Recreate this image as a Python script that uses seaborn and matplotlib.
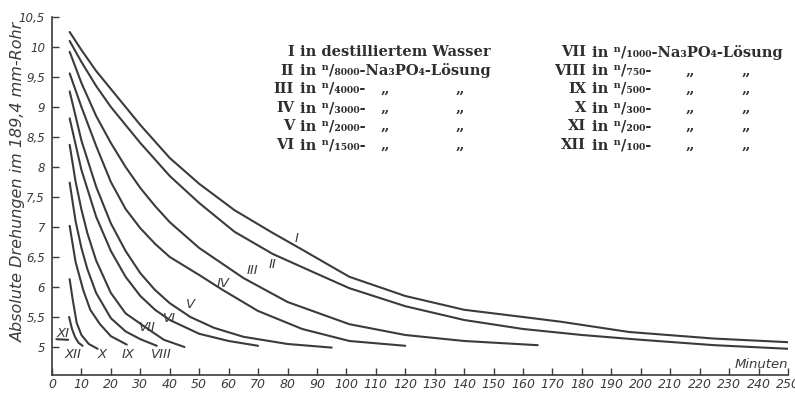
import matplotlib
matplotlib.use("Agg")
import matplotlib.pyplot as plt
import pandas as pd
import seaborn as sns

# minutes vs absolute rotations
CURVE_NAMES = ["I", "II", "III", "IV", "V", "VI", "VII", "VIII", "IX", "X", "XI", "XII"]

t_I = [6, 10, 15, 20, 30, 40, 50, 62, 75, 84, 101, 120, 140, 160, 173, 196, 225, 250]
v_I = [10.25, 9.95, 9.6, 9.3, 8.7, 8.15, 7.72, 7.28, 6.9, 6.65, 6.17, 5.85, 5.62, 5.5, 5.42, 5.25, 5.14, 5.08]
t_II = [6, 10, 15, 20, 30, 40, 50, 62, 75, 90, 101, 120, 140, 160, 180, 200, 225, 250]
v_II = [10.1, 9.75, 9.35, 9.0, 8.4, 7.85, 7.4, 6.92, 6.55, 6.22, 5.98, 5.68, 5.45, 5.3, 5.2, 5.12, 5.03, 4.97]
t_III = [6, 10, 15, 20, 25, 30, 35, 40, 50, 65, 80, 101, 120, 140, 165]
v_III = [9.92, 9.4, 8.85, 8.4, 8.0, 7.65, 7.35, 7.08, 6.65, 6.15, 5.75, 5.38, 5.2, 5.1, 5.03]
t_IV = [6, 10, 15, 20, 25, 30, 35, 40, 50, 58, 70, 85, 101, 120]
v_IV = [9.56, 9.0, 8.35, 7.75, 7.3, 6.98, 6.72, 6.5, 6.2, 5.95, 5.6, 5.3, 5.1, 5.02]
t_V = [6, 10, 15, 20, 25, 30, 35, 40, 47, 55, 65, 80, 95]
v_V = [9.26, 8.44, 7.67, 7.06, 6.6, 6.23, 5.95, 5.73, 5.5, 5.32, 5.17, 5.05, 4.99]
t_VI = [6, 10, 15, 20, 25, 30, 35, 40, 50, 60, 70]
v_VI = [8.81, 7.95, 7.17, 6.6, 6.17, 5.85, 5.62, 5.45, 5.22, 5.1, 5.02]
t_VII = [6, 8, 10, 12, 15, 20, 25, 32, 38, 45]
v_VII = [8.37, 7.76, 7.29, 6.9, 6.44, 5.9, 5.56, 5.32, 5.12, 5.0]
t_VIII = [6, 8, 10, 12, 15, 20, 25, 30, 35.6]
v_VIII = [7.74, 7.1, 6.65, 6.3, 5.9, 5.48, 5.26, 5.13, 5.02]
t_IX = [6, 8, 10.6, 13, 16.3, 20, 25.4]
v_IX = [7.02, 6.42, 5.95, 5.62, 5.38, 5.18, 5.04]
t_X = [6, 7, 8.4, 10, 12.5, 15.5]
v_X = [6.13, 5.8, 5.4, 5.2, 5.05, 4.97]
t_XI = [5.8, 6.8, 7.8, 9, 10.4]
v_XI = [5.5, 5.3, 5.17, 5.07, 5.02]
t_XII = [1.5, 5.5]
v_XII = [5.13, 5.12]

# where the hand-lettered numerals sit (minutes, rotations)
label_t = [83, 75, 68, 58, 47, 40, 32.5, 37, 26, 17, 3.8, 7.3]
label_v = [6.8, 6.37, 6.28, 6.05, 5.7, 5.48, 5.32, 4.88, 4.88, 4.87, 5.23, 4.87]

legend_left_num = ["I", "II", "III", "IV", "V", "VI"]
legend_left_txt = ["in destilliertem Wasser", "in ⁿ/₈₀₀₀-Na₃PO₄-Lösung", "in ⁿ/₄₀₀₀-",
                   "in ⁿ/₃₀₀₀-", "in ⁿ/₂₀₀₀-", "in ⁿ/₁₅₀₀-"]
legend_right_num = ["VII", "VIII", "IX", "X", "XI", "XII"]
legend_right_txt = ["in ⁿ/₁₀₀₀-Na₃PO₄-Lösung", "in ⁿ/₇₅₀-", "in ⁿ/₅₀₀-",
                    "in ⁿ/₃₀₀-", "in ⁿ/₂₀₀-", "in ⁿ/₁₀₀-"]

x_ticks = list(range(0, 251, 10))
y_ticks = [5, 5.5, 6, 6.5, 7, 7.5, 8, 8.5, 9, 9.5, 10, 10.5]

series = {
    "I": (t_I, v_I), "II": (t_II, v_II), "III": (t_III, v_III), "IV": (t_IV, v_IV),
    "V": (t_V, v_V), "VI": (t_VI, v_VI), "VII": (t_VII, v_VII), "VIII": (t_VIII, v_VIII),
    "IX": (t_IX, v_IX), "X": (t_X, v_X), "XI": (t_XI, v_XI), "XII": (t_XII, v_XII),
}
frames = []
for name in CURVE_NAMES:
    t, v = series[name]
    frames.append(pd.DataFrame({"Minuten": t, "Drehung": v, "Kurve": name}))
df = pd.concat(frames, ignore_index=True)

sns.set_style("ticks")
plt.rcParams["font.family"] = ["DejaVu Sans"]

ink = "#3b3b3b"
fig = plt.figure(figsize=(7.95, 3.94), dpi=100)
ax = fig.add_axes([0.0654, 0.0482, 0.9258, 0.9087])

sns.lineplot(data=df, x="Minuten", y="Drehung", units="Kurve", estimator=None,
             sort=False, color=ink, linewidth=1.5, ax=ax)

ax.set_xlim(0, 250)
ax.set_ylim(4.533, 10.5)
ax.set_xticks(x_ticks)
ax.set_xticklabels([str(x) for x in x_ticks], fontsize=9, style="italic", color=ink)
ax.set_yticks(y_ticks)
ax.set_yticklabels([f"{y:g}".replace(".", ",") for y in y_ticks], fontsize=8.5, style="italic", color=ink)
ax.tick_params(axis="both", direction="in", length=5, width=1, colors=ink)
ax.tick_params(axis="x", pad=2)
ax.tick_params(axis="y", pad=5)
for side in ("top", "right"):
    ax.spines[side].set_visible(False)
for side in ("left", "bottom"):
    ax.spines[side].set_color(ink)
    ax.spines[side].set_linewidth(1.2)

ax.set_xlabel("")
ax.set_ylabel("Absolute Drehungen im 189,4 mm-Rohr", fontsize=11.5, style="italic", color=ink)
ax.yaxis.set_label_coords(-0.036, 0.539)
ax.text(250, 4.6, "Minuten", fontsize=9.5, style="italic", color=ink, ha="right", va="bottom")

for name, lt, lv in zip(CURVE_NAMES, label_t, label_v):
    ax.text(lt, lv, name, fontsize=9.5, style="italic", color=ink, ha="center", va="center")

# legend block, typeset in the serif of the original caption
row_y = [1 - py / 394 for py in (52, 71, 89, 108, 126, 145)]
serif = dict(family="DejaVu Serif", fontsize=10.5, fontweight="bold", color="#2e2e2e", va="center")
for i, y in enumerate(row_y):
    fig.text(294 / 795, y, legend_left_num[i], ha="right", **serif)
    fig.text(300 / 795, y, legend_left_txt[i], ha="left", **serif)
    fig.text(586 / 795, y, legend_right_num[i], ha="right", **serif)
    fig.text(592 / 795, y, legend_right_txt[i], ha="left", **serif)
    if i >= 2:
        for dx in (385, 460):
            fig.text(dx / 795, y, "„", ha="center", **serif)
    if i >= 1:
        for dx in (690, 746):
            fig.text(dx / 795, y, "„", ha="center", **serif)

fig.savefig("out.png", dpi=100)
